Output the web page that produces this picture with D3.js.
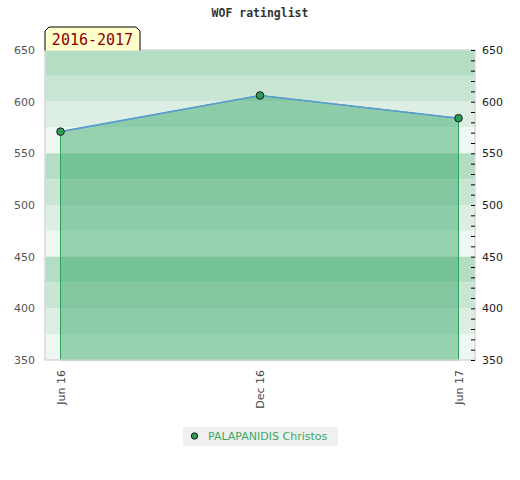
<!DOCTYPE html>
<html lang="en">
<head>
  <meta charset="UTF-8">
  <title>WOF ratinglist</title>
  <style>
    body { margin: 0; background: #fff; }
    text { font-family: "DejaVu Sans", sans-serif; }
  </style>
</head>
<body>
  <div id="chart"></div>
  <script src="https://d3js.org/d3.v7.min.js"></script>
  <script>
    // chart values
    const dates = ['2016-06-01', '2016-12-01', '2017-06-01']
    const ratings = [571, 606, 584]
    const xTickLabels = ['Jun 16', 'Dec 16', 'Jun 17']
    const yTicks = [350, 400, 450, 500, 550, 600, 650]
    const seriesName = 'PALAPANIDIS Christos'
    const periodLabel = '2016-2017'
    const chartTitle = 'WOF ratinglist'

    const parse = d3.timeParse('%Y-%m-%d')
    const data = dates.map((d, i) => ({date: parse(d), value: ratings[i]}))

    const plot = {left: 45, top: 50, right: 475, bottom: 360}

    const xscale = d3.scaleTime()
      .domain(d3.extent(data, d => d.date))
      .range([60.5, 458.5])

    const yscale = d3.scaleLinear()
      .domain([350, 650])
      .range([plot.bottom, plot.top])

    const svg = d3.select('#chart')
      .append('svg')
        .attr('width', 520)
        .attr('height', 480)

    // background bands, every 25 points, 4 shades repeating
    const bandColors = ['#b3dec4', '#c9e6d5', '#ddefe4', '#eef7f1']
    const bands = d3.range(650, 350, -25)
    svg.append('g')
      .selectAll('rect')
      .data(bands)
      .enter()
      .append('rect')
        .attr('x', plot.left)
        .attr('y', d => yscale(d))
        .attr('width', plot.right - plot.left)
        .attr('height', d => yscale(d - 25) - yscale(d))
        .style('fill', (d, i) => bandColors[i % 4])

    // area under the rating
    const area = d3.area()
      .x(d => xscale(d.date))
      .y0(yscale(350))
      .y1(d => yscale(d.value))

    svg.append('path')
      .datum(data)
      .attr('d', area)
      .style('fill', '#2ca25f')
      .style('fill-opacity', 0.45)
      .style('stroke', '#2ca25f')
      .style('stroke-width', 1)

    const line = d3.line()
      .x(d => xscale(d.date))
      .y(d => yscale(d.value))

    svg.append('path')
      .datum(data)
      .attr('d', line)
      .style('fill', 'none')
      .style('stroke', '#5b9bd5')
      .style('stroke-width', 1.6)

    // frame
    svg.append('rect')
      .attr('x', plot.left)
      .attr('y', plot.top)
      .attr('width', plot.right - plot.left)
      .attr('height', plot.bottom - plot.top)
      .style('fill', 'none')
      .style('stroke', '#d8d8d8')
      .style('stroke-width', 1.5)

    // points
    svg.append('g')
      .selectAll('circle')
      .data(data)
      .enter()
      .append('circle')
        .attr('cx', d => xscale(d.date))
        .attr('cy', d => yscale(d.value))
        .attr('r', 3.8)
        .style('fill', '#2e9e57')
        .style('stroke', '#1a1a1a')
        .style('stroke-width', 1)

    // left axis, labels only
    const leftAxis = d3.axisLeft(yscale)
      .tickValues(yTicks)
      .tickSize(0)
      .tickPadding(10)
    const gl = svg.append('g')
      .attr('transform', `translate(${plot.left}, 0)`)
      .call(leftAxis)
    gl.select('.domain').remove()
    gl.selectAll('text')
      .style('font-size', '11px')
      .style('font-family', '"DejaVu Sans", sans-serif')
      .style('fill', '#555')

    // right axis, small inward ticks every 10
    const rightAxis = d3.axisRight(yscale)
      .tickValues(d3.range(350, 651, 10))
      .tickSize(-4)
      .tickPadding(7)
      .tickFormat(d => yTicks.includes(d) ? d : '')
    const gr = svg.append('g')
      .attr('transform', `translate(${plot.right}, 0)`)
      .call(rightAxis)
    gr.select('.domain').remove()
    gr.selectAll('line').style('stroke', '#000')
    gr.selectAll('text')
      .style('font-size', '11px')
      .style('font-family', '"DejaVu Sans", sans-serif')
      .style('fill', '#222')

    // x axis labels rotated
    const bottomAxis = d3.axisBottom(xscale)
      .tickValues(data.map(d => d.date))
      .tickSize(0)
      .tickFormat((d, i) => xTickLabels[i])
    const gb = svg.append('g')
      .attr('transform', `translate(0, ${plot.bottom})`)
      .call(bottomAxis)
    gb.select('.domain').remove()
    gb.selectAll('text')
      .attr('transform', 'rotate(-90)')
      .attr('x', -10)
      .attr('y', 0)
      .attr('dy', '0.35em')
      .style('text-anchor', 'end')
      .style('font-size', '11px')
      .style('font-family', '"DejaVu Sans", sans-serif')
      .style('fill', '#444')

    // title
    svg.append('text')
      .attr('x', 260)
      .attr('y', 17)
      .attr('text-anchor', 'middle')
      .style('font-family', '"DejaVu Sans Mono", monospace')
      .style('font-weight', 'bold')
      .style('font-size', '11.5px')
      .style('fill', '#333')
      .text(chartTitle)

    // period tab
    svg.append('path')
      .attr('d', 'M45,50.5 L45,31 L49,27 L136,27 L140,31 L140,50.5')
      .style('fill', '#ffffcc')
      .style('stroke', '#000')
      .style('stroke-width', 1)
    svg.append('text')
      .attr('x', 92.5)
      .attr('y', 44.5)
      .attr('text-anchor', 'middle')
      .style('font-family', '"DejaVu Sans Mono", monospace')
      .style('font-size', '15px')
      .style('fill', '#8b0000')
      .text(periodLabel)

    // legend
    const legend = svg.append('g')
    legend.append('rect')
      .attr('x', 183)
      .attr('y', 427)
      .attr('width', 155)
      .attr('height', 19)
      .style('fill', '#f0f0f0')
    legend.append('circle')
      .attr('cx', 194.5)
      .attr('cy', 436)
      .attr('r', 3.2)
      .style('fill', '#2e9e57')
      .style('stroke', '#1a1a1a')
    legend.append('text')
      .attr('x', 208)
      .attr('y', 440)
      .style('font-size', '11px')
      .style('fill', '#3aa860')
      .text(seriesName)
  </script>
</body>
</html>
